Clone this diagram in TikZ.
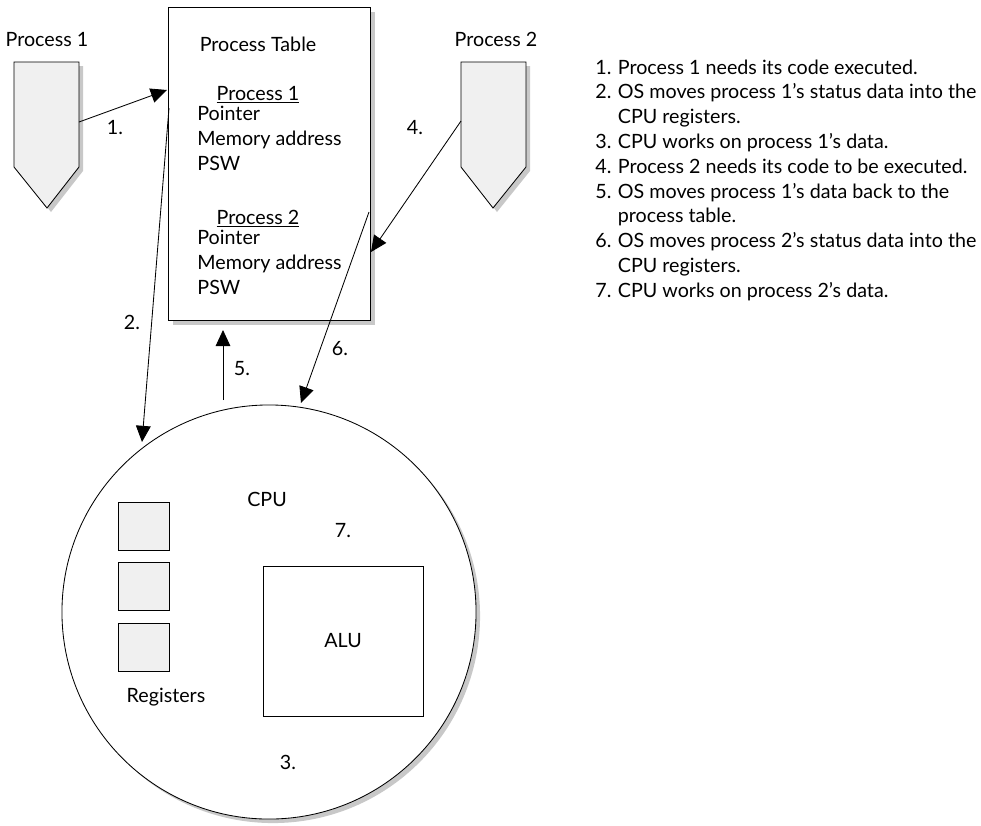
\documentclass[tikz,border=0pt]{standalone}
\usepackage{fontspec}
\setmainfont{Lato}
\usetikzlibrary{arrows.meta,shadows,positioning}
\definecolor{boxgray}{HTML}{F0F0F0}
\definecolor{shadowgray}{HTML}{C8C8C8}

\begin{document}
\begin{tikzpicture}[x=0.025cm, y=-0.025cm, line width=0.6pt,
    >={Triangle[length=11.5pt,width=10.5pt]},
    font=\fontsize{14}{16}\selectfont,
    txt/.style={inner sep=0pt, anchor=base},
    ltxt/.style={inner sep=0pt, anchor=base west},
    shade/.style={drop shadow={shadow xshift=#1, shadow yshift=-#1, fill=shadowgray, opacity=1}},
    shade/.default=0.1cm,
    reg/.style={rectangle, draw, fill=boxgray, minimum width=1.275cm, minimum height=1.2cm, inner sep=0pt}]
    \useasboundingbox (0,0) rectangle (981,825);

    % waiting processes
    \filldraw[fill=boxgray, shade] (14,62) -- (79,62) -- (79,167) -- (47,208) -- (14,167) -- cycle;
    \filldraw[fill=boxgray, shade] (461,62) -- (526,62) -- (526,167) -- (493,208) -- (461,167) -- cycle;
    \node (p1) [txt] at (47,46) {Process 1};
    \node (p2) [txt] at (496,46) {Process 2};

    % process table
    \node (ptable) [rectangle, draw, fill=white, shade=0.125cm, minimum width=5.05cm, minimum height=7.825cm] at (269,163.5) {};
    \node (ptitle) [txt] at (258,51) {Process Table};
    \node (ph1) [txt] at (258,100) {\underline{Process 1}};
    \node (ptr1) [ltxt] at (197,120) {Pointer};
    \node (mem1) [ltxt] at (197,145) {Memory address};
    \node (psw1) [ltxt] at (197,170) {PSW};
    \node (ph2) [txt] at (258,224) {\underline{Process 2}};
    \node (ptr2) [ltxt] at (197,244) {Pointer};
    \node (mem2) [ltxt] at (197,269) {Memory address};
    \node (psw2) [ltxt] at (197,294) {PSW};

    % cpu
    \node (cpu) [circle, draw, fill=white, shade, minimum size=10.35cm, inner sep=0pt] at (269,612) {};
    \node (cpulabel) [txt] at (267,506) {CPU};
    \node (reg1) [reg] at (143.5,526) {};
    \node (reg2) [reg, below=0.3cm of reg1] {};
    \node (reg3) [reg, below=0.3cm of reg2] {};
    \node (reglabel) [txt] at (166,702) {Registers};
    \node (alu) [rectangle, draw, minimum width=4cm, minimum height=3.75cm] at (343,641) {ALU};

    % arrow ends
    \coordinate (out1) at (79,122);
    \coordinate (in1) at (167,90);
    \coordinate (out2) at (169,108);
    \coordinate (in2) at (142,442);
    \coordinate (out4) at (461,121);
    \coordinate (in4) at (371,252);
    \coordinate (out5) at (223,400);
    \coordinate (in5) at (223,330);
    \coordinate (out6) at (369,212);
    \coordinate (in6) at (301,403);

    \draw [->] (out1) -- (in1);
    \draw [->] (out2) -- (in2);
    \draw [->] (out4) -- (in4);
    \draw [->] (out5) -- (in5);
    \draw [->] (out6) -- (in6);

    \node (s1) [txt] at (115,134) {1.};
    \node (s2) [txt] at (132,329) {2.};
    \node (s3) [txt] at (288,769) {3.};
    \node (s4) [txt] at (415,134) {4.};
    \node (s5) [txt] at (242,375) {5.};
    \node (s6) [txt] at (340,355) {6.};
    \node (s7) [txt] at (343,537) {7.};

    % steps
    \foreach \line [count=\i] in {
        {\makebox[16pt][l]{1.}Process 1 needs its code executed.},
        {\makebox[16pt][l]{2.}OS moves process 1's status data into the},
        {\hspace*{16pt}CPU registers.},
        {\makebox[16pt][l]{3.}CPU works on process 1's data.},
        {\makebox[16pt][l]{4.}Process 2 needs its code to be executed.},
        {\makebox[16pt][l]{5.}OS moves process 1's data back to the},
        {\hspace*{16pt}process table.},
        {\makebox[16pt][l]{6.}OS moves process 2's status data into the},
        {\hspace*{16pt}CPU registers.},
        {\makebox[16pt][l]{7.}CPU works on process 2's data.}}
        \node (note\i) [ltxt] at (595, 49.2+24.8*\i) {\line};
\end{tikzpicture}
\end{document}
